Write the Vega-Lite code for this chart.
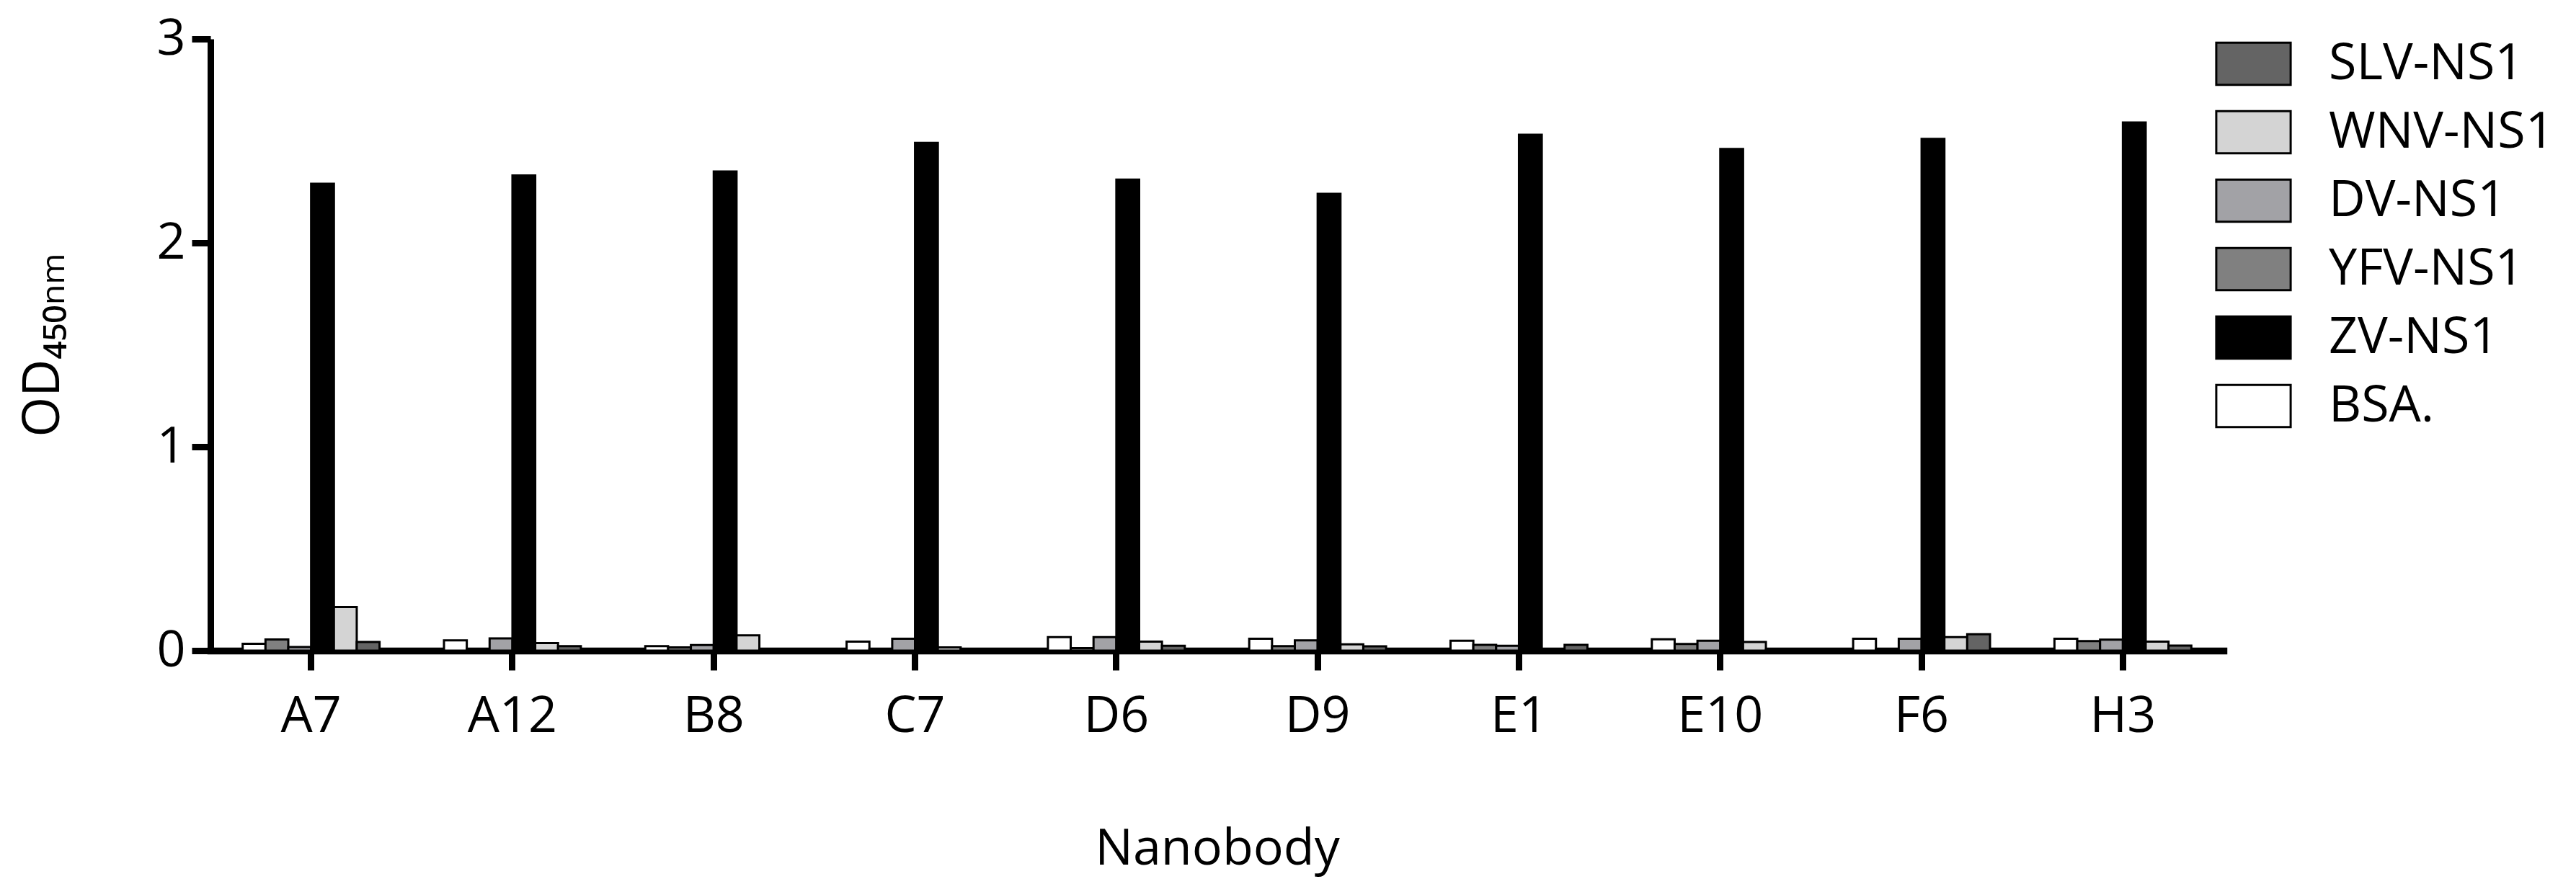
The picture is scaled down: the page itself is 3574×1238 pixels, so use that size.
{
  "$schema": "https://vega.github.io/schema/vega-lite/v6.json",
  "autosize": "none",
  "width": 2793,
  "height": 849,
  "padding": {"left": 292, "top": 54, "right": 489, "bottom": 335},
  "background": "white",
  "config": {
    "view": {"stroke": null},
    "font": "Open Sans"
  },
  "data": {
    "values": [
      {"nb": "A7", "antigen": "BSA.", "od": 0.034},
      {"nb": "A7", "antigen": "YFV-NS1", "od": 0.055},
      {"nb": "A7", "antigen": "DV-NS1", "od": 0.018},
      {"nb": "A7", "antigen": "ZV-NS1", "od": 2.29},
      {"nb": "A7", "antigen": "WNV-NS1", "od": 0.214},
      {"nb": "A7", "antigen": "SLV-NS1", "od": 0.042},
      {"nb": "A12", "antigen": "BSA.", "od": 0.05},
      {"nb": "A12", "antigen": "YFV-NS1", "od": 0.008},
      {"nb": "A12", "antigen": "DV-NS1", "od": 0.06},
      {"nb": "A12", "antigen": "ZV-NS1", "od": 2.33},
      {"nb": "A12", "antigen": "WNV-NS1", "od": 0.037},
      {"nb": "A12", "antigen": "SLV-NS1", "od": 0.022},
      {"nb": "B8", "antigen": "BSA.", "od": 0.022},
      {"nb": "B8", "antigen": "YFV-NS1", "od": 0.016},
      {"nb": "B8", "antigen": "DV-NS1", "od": 0.027},
      {"nb": "B8", "antigen": "ZV-NS1", "od": 2.35},
      {"nb": "B8", "antigen": "WNV-NS1", "od": 0.075},
      {"nb": "B8", "antigen": "SLV-NS1", "od": 0.004},
      {"nb": "C7", "antigen": "BSA.", "od": 0.044},
      {"nb": "C7", "antigen": "YFV-NS1", "od": 0.008},
      {"nb": "C7", "antigen": "DV-NS1", "od": 0.058},
      {"nb": "C7", "antigen": "ZV-NS1", "od": 2.49},
      {"nb": "C7", "antigen": "WNV-NS1", "od": 0.016},
      {"nb": "C7", "antigen": "SLV-NS1", "od": 0.006},
      {"nb": "D6", "antigen": "BSA.", "od": 0.066},
      {"nb": "D6", "antigen": "YFV-NS1", "od": 0.012},
      {"nb": "D6", "antigen": "DV-NS1", "od": 0.066},
      {"nb": "D6", "antigen": "ZV-NS1", "od": 2.31},
      {"nb": "D6", "antigen": "WNV-NS1", "od": 0.044},
      {"nb": "D6", "antigen": "SLV-NS1", "od": 0.024},
      {"nb": "D9", "antigen": "BSA.", "od": 0.058},
      {"nb": "D9", "antigen": "YFV-NS1", "od": 0.022},
      {"nb": "D9", "antigen": "DV-NS1", "od": 0.05},
      {"nb": "D9", "antigen": "ZV-NS1", "od": 2.24},
      {"nb": "D9", "antigen": "WNV-NS1", "od": 0.031},
      {"nb": "D9", "antigen": "SLV-NS1", "od": 0.021},
      {"nb": "E1", "antigen": "BSA.", "od": 0.049},
      {"nb": "E1", "antigen": "YFV-NS1", "od": 0.028},
      {"nb": "E1", "antigen": "DV-NS1", "od": 0.024},
      {"nb": "E1", "antigen": "ZV-NS1", "od": 2.53},
      {"nb": "E1", "antigen": "WNV-NS1", "od": 0.008},
      {"nb": "E1", "antigen": "SLV-NS1", "od": 0.028},
      {"nb": "E10", "antigen": "BSA.", "od": 0.056},
      {"nb": "E10", "antigen": "YFV-NS1", "od": 0.033},
      {"nb": "E10", "antigen": "DV-NS1", "od": 0.049},
      {"nb": "E10", "antigen": "ZV-NS1", "od": 2.46},
      {"nb": "E10", "antigen": "WNV-NS1", "od": 0.042},
      {"nb": "E10", "antigen": "SLV-NS1", "od": 0.004},
      {"nb": "F6", "antigen": "BSA.", "od": 0.058},
      {"nb": "F6", "antigen": "YFV-NS1", "od": 0.008},
      {"nb": "F6", "antigen": "DV-NS1", "od": 0.058},
      {"nb": "F6", "antigen": "ZV-NS1", "od": 2.51},
      {"nb": "F6", "antigen": "WNV-NS1", "od": 0.066},
      {"nb": "F6", "antigen": "SLV-NS1", "od": 0.08},
      {"nb": "H3", "antigen": "BSA.", "od": 0.058},
      {"nb": "H3", "antigen": "YFV-NS1", "od": 0.047},
      {"nb": "H3", "antigen": "DV-NS1", "od": 0.054},
      {"nb": "H3", "antigen": "ZV-NS1", "od": 2.59},
      {"nb": "H3", "antigen": "WNV-NS1", "od": 0.044},
      {"nb": "H3", "antigen": "SLV-NS1", "od": 0.025}
    ]
  },
  "mark": {"type": "bar", "stroke": "black", "strokeWidth": 3},
  "encoding": {
    "x": {
      "field": "nb",
      "type": "nominal",
      "sort": ["A7", "A12", "B8", "C7", "D6", "D9", "E1", "E10", "F6", "H3"],
      "scale": {"paddingInner": 0.32, "paddingOuter": 0.16},
      "axis": {
        "title": "Nanobody",
        "titleFontSize": 70,
        "titleFontWeight": "normal",
        "titleColor": "black",
        "titlePadding": 115,
        "labelFontSize": 70,
        "labelColor": "black",
        "labelAngle": 0,
        "labelPadding": 30,
        "tickSize": 27,
        "tickWidth": 9,
        "tickColor": "black",
        "domainWidth": 9.5,
        "domainColor": "black",
        "domainCap": "square"
      }
    },
    "xOffset": {
      "field": "antigen",
      "sort": ["BSA.", "YFV-NS1", "DV-NS1", "ZV-NS1", "WNV-NS1", "SLV-NS1"],
      "scale": {"paddingInner": 0, "paddingOuter": 0}
    },
    "y": {
      "field": "od",
      "type": "quantitative",
      "scale": {"domain": [0, 3], "nice": false},
      "axis": {
        "title": "OD₄₅₀ₙₘ",
        "titleFontSize": 72,
        "titleFontWeight": "normal",
        "titleColor": "black",
        "titlePadding": 120,
        "values": [0, 1, 2, 3],
        "grid": false,
        "labelFontSize": 70,
        "labelColor": "black",
        "labelPadding": 9,
        "labelFlush": false,
        "tickSize": 26,
        "tickWidth": 9,
        "tickColor": "black",
        "domainWidth": 9,
        "domainColor": "black"
      }
    },
    "color": {
      "field": "antigen",
      "type": "nominal",
      "scale": {
        "domain": ["SLV-NS1", "WNV-NS1", "DV-NS1", "YFV-NS1", "ZV-NS1", "BSA."],
        "range": ["#646464", "#d4d4d4", "#a2a2a6", "#808080", "#000000", "#ffffff"]
      },
      "legend": {
        "title": null,
        "orient": "none",
        "legendX": 2790,
        "legendY": -10,
        "symbolType": "M-1.2,-0.68H1.2V0.68H-1.2Z",
        "symbolSize": 7396,
        "symbolStrokeColor": "black",
        "symbolStrokeWidth": 3,
        "symbolOpacity": 1,
        "labelFontSize": 70,
        "labelColor": "black",
        "labelOffset": 60,
        "labelLimit": 0,
        "rowPadding": 15,
        "padding": 0
      }
    }
  }
}
